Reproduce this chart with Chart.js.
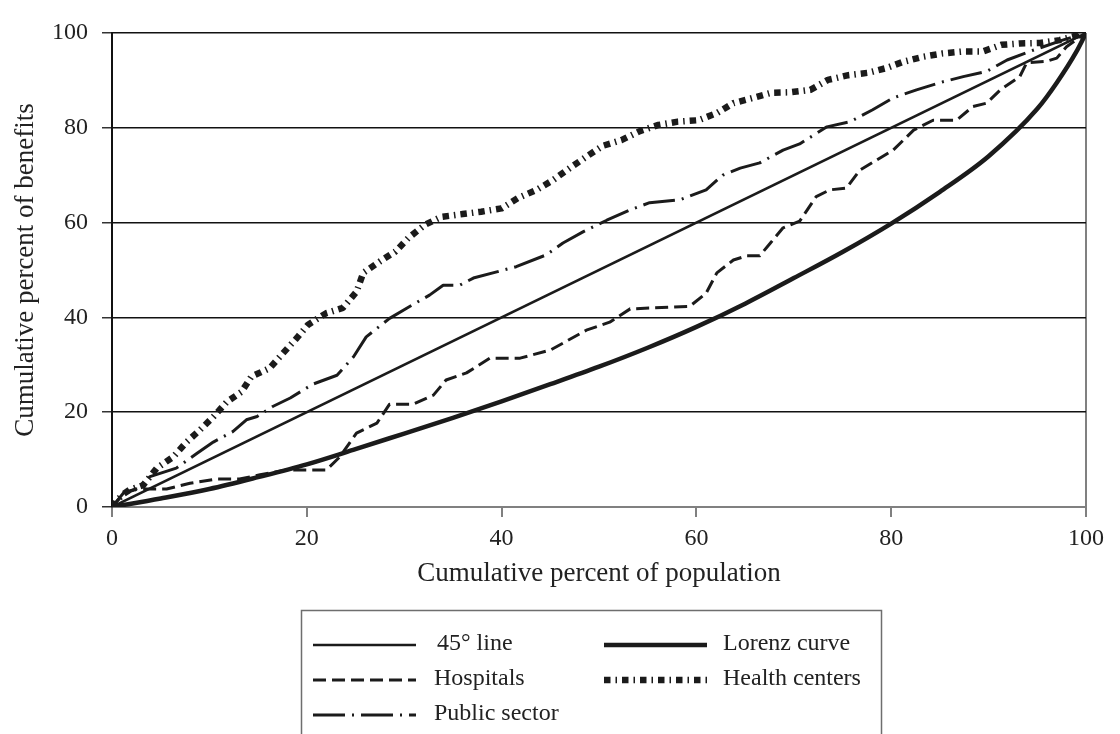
<!DOCTYPE html>
<html>
<head>
<meta charset="utf-8">
<script src="https://cdn.jsdelivr.net/npm/chart.js@4"></script>
<style>
  html, body { margin: 0; padding: 0; background: #fff; }
  #wrap { width: 1120px; height: 734px; }
</style>
</head>
<body>
<div id="wrap"><canvas id="chart" width="1120" height="734"></canvas></div>
<script>
// cumulative percent of population (x) vs cumulative percent of benefits (y)
const lineX = [0, 100];
const lineY = [0, 100];

const lorenzX = [0, 5, 10, 15, 20, 25, 30, 35, 40, 45, 50, 55, 60, 65, 70, 75, 80, 85, 90, 95, 97, 99, 100];
const lorenzY = [0, 1.8, 3.8, 6.3, 9, 12.2, 15.5, 18.8, 22.3, 25.9, 29.6, 33.6, 38, 42.9, 48.3, 53.8, 59.8, 66.5, 74, 84, 89.5, 96, 100];

const hospX = [0, 1.2, 2.5, 5.6, 8, 10.7, 13.1, 15.2, 17.9, 22, 23.4, 25.1, 27.2, 28.5, 30.9, 33, 34.3, 36.4, 38.8, 41.9,
  45, 48.7, 51.1, 53.2, 59.3, 61, 62.1, 63.8, 65.2, 66.5, 67.6, 68.9, 70.6, 72.3, 73.7, 75.4, 76.8, 78.5, 80.2, 82.3,
  84.3, 86.7, 88.4, 89.8, 91.2, 93.2, 93.9, 95.9, 97, 98, 100];
const hospY = [0, 2.8, 3.8, 3.8, 5, 5.9, 5.9, 6.8, 7.8, 7.8, 10.6, 15.6, 17.7, 21.7, 21.7, 23.6, 26.8, 28.3, 31.4, 31.4,
  33.1, 37.3, 39, 41.8, 42.3, 45.1, 49.4, 52.1, 53, 53, 55.7, 58.9, 60.3, 65.5, 66.9, 67.3, 71.1, 73.2, 75.3, 79.5,
  81.6, 81.6, 84.5, 85.2, 88, 90.8, 93.7, 94, 94.7, 97.1, 100];

const healthX = [0, 1, 1.8, 3.2, 4.6, 6.3, 7.7, 9, 10.4, 11.8, 13.3, 14.3, 16.2, 17.4, 19, 20.1, 22, 23.7, 25.1, 25.8,
  27.5, 29.1, 30.4, 32.1, 33.8, 36, 37.9, 40, 41.7, 43.6, 45.3, 47, 48.7, 50.4, 52.3, 54.2, 56.1, 58.1, 60.2, 62.1,
  63.8, 65.8, 67.7, 69.7, 71.7, 73.5, 75.6, 77.6, 79.5, 81.2, 83.3, 85.3, 87.4, 89.4, 91.3, 93.2, 95.3, 97.3, 100];
const healthY = [0, 2.5, 3.6, 4.6, 8.2, 10.6, 13.8, 16.2, 19, 22.2, 24.3, 27.5, 29.3, 32.1, 35.7, 38.4, 40.9, 42, 45.4, 49.4,
  51.8, 53.9, 56.7, 59.5, 61.2, 61.8, 62.3, 63, 65.2, 66.9, 69, 71.5, 73.9, 76.2, 77.4, 79.3, 80.6, 81.3, 81.6, 83.1,
  85.2, 86.3, 87.4, 87.5, 88, 90.1, 91.1, 91.6, 92.6, 93.9, 95, 95.7, 96.1, 96.1, 97.5, 97.8, 97.9, 98.5, 100];

const publicX = [0, 1.2, 2.5, 3.9, 6.6, 8.7, 10.4, 12.4, 13.8, 14.9, 16.5, 18.3, 20.6, 23.1, 24.8, 26.1, 28.5, 30.3, 32.6, 34,
  35.7, 37.1, 39.5, 41.5, 44.6, 46.3, 48.4, 50.8, 53.2, 55.2, 58.3, 61, 62.7, 64.5, 66.5, 68.9, 70.6, 73.4, 75.8, 78.1,
  80.2, 82.6, 85.3, 87.4, 89.8, 91.9, 94.2, 97.6, 100];
const publicY = [0, 3, 3.8, 6.4, 8.2, 11.3, 13.7, 15.9, 18.4, 19.1, 21.2, 23, 25.9, 27.8, 31.7, 35.9, 39.8, 42, 44.7, 46.8,
  46.8, 48.3, 49.6, 50.7, 53.2, 55.7, 58.1, 60.5, 62.7, 64.2, 64.8, 66.9, 70, 71.5, 72.6, 75.3, 76.6, 80.2, 81.3, 83.8,
  86.3, 88, 89.7, 90.8, 91.9, 94.3, 96.1, 98.5, 100];

const xTicks = [0, 20, 40, 60, 80, 100];
const yTicks = [0, 20, 40, 60, 80, 100];

const pts = (xs, ys) => xs.map((x, i) => ({ x: x, y: ys[i] }));
const ink = '#1b1b1b';
const serif = '"Liberation Serif", "Times New Roman", serif';

const datasets = [
  { label: '45\u00b0 line', data: pts(lineX, lineY), borderWidth: 2.5, borderDash: [] },
  { label: 'Lorenz curve', data: pts(lorenzX, lorenzY), borderWidth: 4.5, borderDash: [], cubicInterpolationMode: 'monotone' },
  { label: 'Hospitals', data: pts(hospX, hospY), borderWidth: 3, borderDash: [13, 6] },
  { label: 'Health centers', data: pts(healthX, healthY), borderWidth: 6.5, borderDash: [6.5, 5, 1.5, 5] },
  { label: 'Public sector', data: pts(publicX, publicY), borderWidth: 3, borderDash: [32, 7, 2, 7] }
].map(d => Object.assign({ borderColor: ink, backgroundColor: ink, pointRadius: 0, fill: false, tension: 0,
  borderCapStyle: 'butt', borderJoinStyle: 'round' }, d));

// two-column boxed legend under the axis title
const boxLegend = {
  id: 'boxLegend',
  afterDraw(chart) {
    const ctx = chart.ctx;
    const ds = chart.data.datasets;
    const slots = [
      { i: 0, lx: 313, tx: 437, y: 645 },
      { i: 1, lx: 604, tx: 723, y: 645 },
      { i: 2, lx: 313, tx: 434, y: 680 },
      { i: 3, lx: 604, tx: 723, y: 680 },
      { i: 4, lx: 313, tx: 434, y: 715 }
    ];
    ctx.save();
    ctx.strokeStyle = '#6e6e6e';
    ctx.lineWidth = 1.5;
    ctx.strokeRect(301.5, 610.5, 580, 140);
    slots.forEach(s => {
      const d = ds[s.i];
      ctx.beginPath();
      ctx.setLineDash(d.borderDash);
      ctx.lineCap = 'butt';
      ctx.lineWidth = d.borderWidth;
      ctx.strokeStyle = ink;
      ctx.moveTo(s.lx, s.y);
      ctx.lineTo(s.lx + 103, s.y);
      ctx.stroke();
      ctx.setLineDash([]);
      ctx.fillStyle = '#222';
      ctx.font = '24px ' + serif;
      ctx.textBaseline = 'middle';
      ctx.fillText(d.label, s.tx, s.y - 1);
    });
    ctx.restore();
  }
};

new Chart(document.getElementById('chart'), {
  type: 'line',
  data: { datasets: datasets },
  plugins: [boxLegend],
  options: {
    responsive: false,
    animation: false,
    layout: { padding: { left: 0, top: 33, right: 34, bottom: 144 } },
    plugins: { legend: { display: false }, tooltip: { enabled: false } },
    scales: {
      x: {
        type: 'linear',
        min: 0,
        max: 100,
        afterBuildTicks: (s) => { s.ticks = xTicks.map(v => ({ value: v })); },
        afterFit: (s) => { s.height = 83; },
        ticks: { color: '#222', font: { family: serif, size: 24 }, padding: 7, maxRotation: 0 },
        grid: {
          color: (c) => (c.tick && c.tick.value === 100 ? '#808080' : 'rgba(0,0,0,0)'),
          lineWidth: 2,
          tickColor: '#808080',
          tickLength: 10
        },
        border: { color: '#808080', width: 2 },
        title: { display: true, text: 'Cumulative percent of population', color: '#222',
          font: { family: serif, size: 27 }, padding: { top: 0, bottom: 0 } }
      },
      y: {
        min: 0,
        max: 100,
        afterBuildTicks: (s) => { s.ticks = yTicks.map(v => ({ value: v })); },
        afterFit: (s) => { s.width = 112; },
        ticks: { color: '#222', font: { family: serif, size: 24 }, padding: 14 },
        grid: {
          color: (c) => (c.tick && c.tick.value === 0 ? '#808080' : '#111'),
          lineWidth: 1.5,
          tickColor: '#333',
          tickLength: 10
        },
        border: { color: '#111', width: 2 },
        title: { display: true, text: 'Cumulative percent of benefits', color: '#222',
          font: { family: serif, size: 27 }, padding: { top: 10, bottom: 0 } }
      }
    }
  }
});
</script>
</body>
</html>
